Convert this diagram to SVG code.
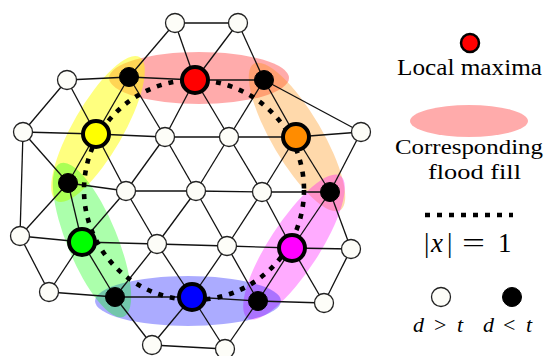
<svg xmlns="http://www.w3.org/2000/svg" width="546" height="356" viewBox="0 0 546 356">
<style>
.e line{stroke:#111;stroke-width:1.3}
.w{fill:#fdfdf8;stroke:#222;stroke-width:1.3}
.k{fill:#000;stroke:#000;stroke-width:1}
.m{stroke:#000;stroke-width:4}
.t{font-family:"Liberation Serif","Times New Roman",serif;fill:#000}
.i{font-style:italic}
.dots{fill:none;stroke:#000;stroke-width:4.6;stroke-dasharray:5 7}
</style>
<rect width="546" height="356" fill="#fff"/>
<g id="fills">
<ellipse cx="199" cy="78" rx="90" ry="26" fill="#ff0000" fill-opacity="0.33"/>
<ellipse cx="98" cy="129" rx="83" ry="25" transform="rotate(-60 98 129)" fill="#ffff00" fill-opacity="0.5"/>
<ellipse cx="297" cy="137" rx="85" ry="25" transform="rotate(59.5 297 137)" fill="#ff8c00" fill-opacity="0.33"/>
<ellipse cx="294" cy="247" rx="85" ry="25" transform="rotate(-57 294 247)" fill="#ff00ff" fill-opacity="0.33"/>
<ellipse cx="188" cy="301" rx="93" ry="25" fill="#0000ff" fill-opacity="0.33"/>
<ellipse cx="92" cy="240" rx="83" ry="25" transform="rotate(67.6 92 240)" fill="#00ff00" fill-opacity="0.33"/>
</g>
<g id="connectors" class="e">
<line x1="175" y1="23" x2="238" y2="23"/>
<line x1="175" y1="23" x2="129" y2="77"/>
<line x1="175" y1="23" x2="195" y2="80"/>
<line x1="238" y1="23" x2="195" y2="80"/>
<line x1="238" y1="23" x2="264" y2="80"/>
<line x1="67" y1="80" x2="129" y2="77"/>
<line x1="129" y1="77" x2="195" y2="80"/>
<line x1="195" y1="80" x2="264" y2="80"/>
<line x1="67" y1="80" x2="23" y2="132"/>
<line x1="67" y1="80" x2="96" y2="134"/>
<line x1="129" y1="77" x2="96" y2="134"/>
<line x1="129" y1="77" x2="165" y2="137"/>
<line x1="195" y1="80" x2="165" y2="137"/>
<line x1="195" y1="80" x2="229" y2="137"/>
<line x1="264" y1="80" x2="229" y2="137"/>
<line x1="264" y1="80" x2="296" y2="137"/>
<line x1="264" y1="80" x2="361" y2="132"/>
<line x1="23" y1="132" x2="96" y2="134"/>
<line x1="96" y1="134" x2="165" y2="137"/>
<line x1="165" y1="137" x2="229" y2="137"/>
<line x1="229" y1="137" x2="296" y2="137"/>
<line x1="296" y1="137" x2="361" y2="132"/>
<line x1="23" y1="132" x2="68" y2="183"/>
<line x1="23" y1="132" x2="20" y2="236"/>
<line x1="96" y1="134" x2="68" y2="183"/>
<line x1="96" y1="134" x2="126" y2="191"/>
<line x1="165" y1="137" x2="126" y2="191"/>
<line x1="165" y1="137" x2="196" y2="191"/>
<line x1="229" y1="137" x2="196" y2="191"/>
<line x1="229" y1="137" x2="262" y2="192"/>
<line x1="296" y1="137" x2="262" y2="192"/>
<line x1="296" y1="137" x2="330" y2="192"/>
<line x1="361" y1="132" x2="330" y2="192"/>
<line x1="68" y1="183" x2="126" y2="191"/>
<line x1="126" y1="191" x2="196" y2="191"/>
<line x1="196" y1="191" x2="262" y2="192"/>
<line x1="262" y1="192" x2="330" y2="192"/>
<line x1="68" y1="183" x2="20" y2="236"/>
<line x1="68" y1="183" x2="82" y2="242"/>
<line x1="126" y1="191" x2="82" y2="242"/>
<line x1="126" y1="191" x2="157" y2="244"/>
<line x1="196" y1="191" x2="157" y2="244"/>
<line x1="196" y1="191" x2="227" y2="246"/>
<line x1="262" y1="192" x2="227" y2="246"/>
<line x1="262" y1="192" x2="292" y2="248"/>
<line x1="330" y1="192" x2="292" y2="248"/>
<line x1="330" y1="192" x2="351" y2="249"/>
<line x1="20" y1="236" x2="82" y2="242"/>
<line x1="82" y1="242" x2="157" y2="244"/>
<line x1="157" y1="244" x2="227" y2="246"/>
<line x1="227" y1="246" x2="292" y2="248"/>
<line x1="292" y1="248" x2="351" y2="249"/>
<line x1="20" y1="236" x2="49" y2="292"/>
<line x1="82" y1="242" x2="49" y2="292"/>
<line x1="82" y1="242" x2="115" y2="297"/>
<line x1="157" y1="244" x2="115" y2="297"/>
<line x1="157" y1="244" x2="192" y2="297"/>
<line x1="227" y1="246" x2="192" y2="297"/>
<line x1="227" y1="246" x2="258" y2="301"/>
<line x1="292" y1="248" x2="258" y2="301"/>
<line x1="292" y1="248" x2="324" y2="303"/>
<line x1="351" y1="249" x2="324" y2="303"/>
<line x1="49" y1="292" x2="115" y2="297"/>
<line x1="115" y1="297" x2="192" y2="297"/>
<line x1="192" y1="297" x2="258" y2="301"/>
<line x1="258" y1="301" x2="324" y2="303"/>
<line x1="115" y1="297" x2="152" y2="345"/>
<line x1="192" y1="297" x2="152" y2="345"/>
<line x1="192" y1="297" x2="225" y2="349"/>
<line x1="258" y1="301" x2="225" y2="349"/>
<line x1="152" y1="345" x2="225" y2="349"/>
</g>
<g id="path-x1">
<circle class="dots" cx="194" cy="190" r="110"/>
</g>
<g id="nodes">
<g id="n-a1"><circle class="w" cx="175" cy="23" r="9.5"/></g>
<g id="n-a2"><circle class="w" cx="238" cy="23" r="9.5"/></g>
<g id="n-b1"><circle class="w" cx="67" cy="80" r="9.5"/></g>
<g id="n-b2"><circle class="k" cx="129" cy="77" r="9.5"/></g>
<g id="n-b3"><circle class="m" cx="195" cy="80" r="13" fill="#ff0000"/></g>
<g id="n-b4"><circle class="k" cx="264" cy="80" r="9.5"/></g>
<g id="n-c1"><circle class="w" cx="23" cy="132" r="9.5"/></g>
<g id="n-c2"><circle class="m" cx="96" cy="134" r="13" fill="#ffff00"/></g>
<g id="n-c3"><circle class="w" cx="165" cy="137" r="9.5"/></g>
<g id="n-c4"><circle class="w" cx="229" cy="137" r="9.5"/></g>
<g id="n-c5"><circle class="m" cx="296" cy="137" r="13" fill="#ff8c00"/></g>
<g id="n-c6"><circle class="w" cx="361" cy="132" r="9.5"/></g>
<g id="n-d1"><circle class="k" cx="68" cy="183" r="9.5"/></g>
<g id="n-d2"><circle class="w" cx="126" cy="191" r="9.5"/></g>
<g id="n-d3"><circle class="w" cx="196" cy="191" r="9.5"/></g>
<g id="n-d4"><circle class="w" cx="262" cy="192" r="9.5"/></g>
<g id="n-d5"><circle class="k" cx="330" cy="192" r="9.5"/></g>
<g id="n-e1"><circle class="w" cx="20" cy="236" r="9.5"/></g>
<g id="n-e2"><circle class="m" cx="82" cy="242" r="13" fill="#00ff00"/></g>
<g id="n-e3"><circle class="w" cx="157" cy="244" r="9.5"/></g>
<g id="n-e4"><circle class="w" cx="227" cy="246" r="9.5"/></g>
<g id="n-e5"><circle class="m" cx="292" cy="248" r="13" fill="#ff00ff"/></g>
<g id="n-e6"><circle class="w" cx="351" cy="249" r="9.5"/></g>
<g id="n-f1"><circle class="w" cx="49" cy="292" r="9.5"/></g>
<g id="n-f2"><circle class="k" cx="115" cy="297" r="9.5"/></g>
<g id="n-f3"><circle class="m" cx="192" cy="297" r="13" fill="#0000ff"/></g>
<g id="n-f4"><circle class="k" cx="258" cy="301" r="9.5"/></g>
<g id="n-f5"><circle class="w" cx="324" cy="303" r="9.5"/></g>
<g id="n-g1"><circle class="w" cx="152" cy="345" r="9.5"/></g>
<g id="n-g2"><circle class="w" cx="225" cy="349" r="9.5"/></g>
</g>
<g id="legend">
<g id="leg-max">
<circle cx="470" cy="43" r="9" fill="#ff0000" stroke="#000" stroke-width="2.5"/>
<text class="t" x="397" y="75" font-size="23" textLength="145" lengthAdjust="spacingAndGlyphs">Local maxima</text>
</g>
<g id="leg-fill">
<ellipse cx="469" cy="121" rx="59" ry="16" fill="#ff0000" fill-opacity="0.33"/>
<text class="t" x="395" y="154" font-size="22" textLength="148" lengthAdjust="spacingAndGlyphs">Corresponding</text>
<text class="t" x="428" y="178.5" font-size="22" textLength="93" lengthAdjust="spacingAndGlyphs">flood fill</text>
</g>
<g id="leg-path">
<line x1="425" y1="215" x2="513" y2="215" stroke="#000" stroke-width="4.6" stroke-dasharray="5 7"/>
<text class="t" y="252" font-size="27"><tspan x="424">|</tspan><tspan class="i" x="431">x</tspan><tspan x="447">|</tspan><tspan x="498">1</tspan></text>
<text class="t" x="462" y="252" font-size="27" textLength="23" lengthAdjust="spacingAndGlyphs">=</text>
</g>
<g id="leg-nodes">
<circle class="w" cx="441" cy="297" r="9.5"/>
<circle class="k" cx="512" cy="297" r="9.5"/>
<text class="t" y="332" font-size="22"><tspan class="i" x="413">d</tspan><tspan x="434">&gt;</tspan><tspan class="i" x="457">t</tspan></text>
<text class="t" y="332" font-size="22"><tspan class="i" x="483">d</tspan><tspan x="503">&lt;</tspan><tspan class="i" x="526">t</tspan></text>
</g>
</g>
</svg>
